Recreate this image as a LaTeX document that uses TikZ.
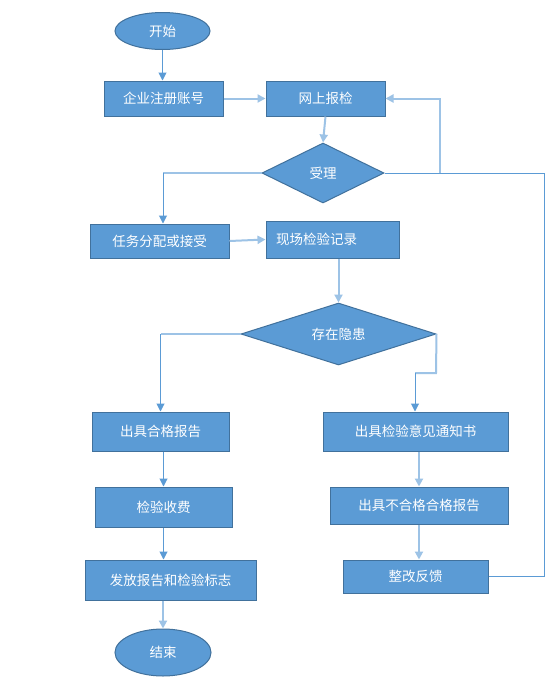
\documentclass[tikz,border=0pt]{standalone}
\usepackage{fontspec}
\newfontfamily\cjk{Noto Sans CJK SC}
\usetikzlibrary{shapes.geometric,arrows.meta}
\definecolor{boxfill}{HTML}{5B9BD5}
\definecolor{boxdraw}{HTML}{41719C}
\definecolor{ln}{HTML}{5B9BD5}
\definecolor{lnl}{HTML}{9DC3E6}
\tikzset{
  base/.style={fill=boxfill, draw=boxdraw, line width=1pt, text=white,
    font=\cjk\fontsize{13.5}{16}\selectfont, inner sep=0pt},
  box/.style={base, rectangle},
  oval/.style={base, ellipse},
  dia/.style={base, diamond, shape aspect=3},
  tip/.style={-{Triangle[width=8pt,length=8pt]}},
  cn/.style={draw=ln, line width=1pt},
  cnl/.style={draw=lnl, line width=2pt},
}
\begin{document}
\begin{tikzpicture}[x=1pt,y=-1pt]
\useasboundingbox (0,0) rectangle (554,689);
\fill[white] (0,0) rectangle (554,689);
% nodes
\node[oval, minimum width=95, minimum height=37] (start) at (162.5,31) {开始};
\node[box, minimum width=119, minimum height=35] (reg) at (163.5,98.5) {企业注册账号};
\node[box, minimum width=119, minimum height=35] (net) at (325.5,98.5) {网上报检};
\node[dia, minimum width=122, minimum height=60] (acc) at (323,173) {受理};
\node[box, minimum width=139, minimum height=34] (task) at (159.5,241) {任务分配或接受};
\node[box, minimum width=133, minimum height=37, text width=113, align=left, inner xsep=10pt] (site) at (332.5,239.5) {现场检验记录};
\node[dia, minimum width=195, minimum height=62] (risk) at (338.5,334) {存在隐患};
\node[box, minimum width=137, minimum height=39] (ok) at (160.5,431.5) {出具合格报告};
\node[box, minimum width=185, minimum height=39] (notice) at (415.5,431.5) {出具检验意见通知书};
\node[box, minimum width=137, minimum height=40] (fee) at (163.5,507) {检验收费};
\node[box, minimum width=178, minimum height=37] (bad) at (419,505.5) {出具不合格合格报告};
\node[box, minimum width=171, minimum height=40] (issue) at (170.5,580) {发放报告和检验标志};
\node[box, minimum width=145, minimum height=33] (fix) at (415.5,576.5) {整改反馈};
\node[oval, minimum width=96, minimum height=47] (end) at (163,652.5) {结束};
\coordinate (rx) at (544,173);
\coordinate (mx) at (440,173);
\coordinate (rl) at (163,173);
\coordinate (rr) at (436,373);
\coordinate (rr2) at (415,373);
% connectors
\draw[cn,tip] (start.south) -- (start.south |- reg.north);
\draw[cnl,tip] (reg.east) -- (net.west);
\draw[cnl,tip] (net.south) -- (acc.north);
\draw[cnl] (acc.west) -- (rl);
\draw[cn,tip] (rl) -- (rl |- task.north);
\draw[cn] (acc.east) -- (mx);
\draw[cnl,tip] (mx) |- (net.east);
\draw[cnl,tip] (task.east) -- (site.west);
\draw[cnl,tip] (risk.north |- site.south) -- (risk.north);
\draw[cnl] (risk.west) -- (risk.west -| ok.north);
\draw[cn,tip] (risk.west -| ok.north) -- (ok.north);
\draw[cnl] (risk.east) -- (rr) -- (rr2);
\draw[cn,tip] (rr2) -- (rr2 |- notice.north);
\draw[cn,tip] (ok.south -| fee.north) -- (fee.north);
\draw[cn,tip] (fee.south) -- (fee.south |- issue.north);
\draw[cnl,tip] (end.north |- issue.south) -- (end.north);
\draw[cnl,tip] (bad.north |- notice.south) -- (bad.north);
\draw[cnl,tip] (bad.south) -- (bad.south |- fix.north);
\draw[cn] (fix.east) -| (rx) -- (mx);
\end{tikzpicture}
\end{document}
